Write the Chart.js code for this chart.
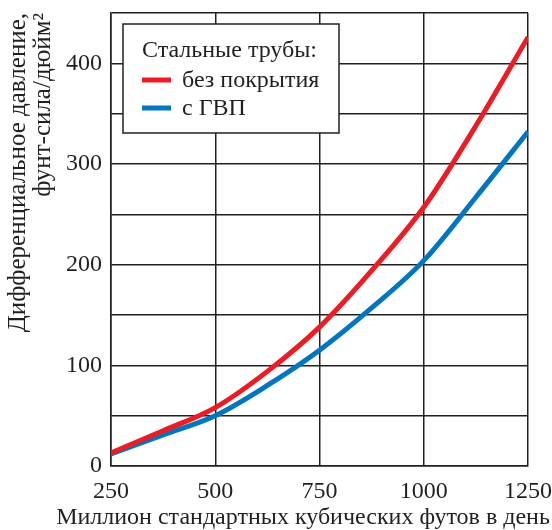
<!DOCTYPE html>
<html>
<head>
<meta charset="utf-8">
<script src="https://cdn.jsdelivr.net/npm/chart.js@4/dist/chart.umd.min.js"></script>
<style>
  html, body { margin: 0; padding: 0; background: #fff; }
  #wrap { width: 552px; height: 530px; }
</style>
</head>
<body>
<div id="wrap"><canvas id="chart" width="552" height="530"></canvas></div>
<script>
// flow rate, million standard cubic feet per day
const flowRates = [250, 375, 500, 625, 750, 875, 1000, 1125, 1250];
// differential pressure, psi
const bareSteel = [13, 35, 58, 94, 138, 194, 257, 338, 426];
const coatedSteel = [12, 31, 50, 80, 115, 157, 204, 267, 332];

const xTicks = [250, 500, 750, 1000, 1250];
const yLabelled = [0, 100, 200, 300, 400];

const xTitle = 'Миллион стандартных кубических футов в день';
const yTitle = ['Дифференциальное давление,', 'фунт-сила/дюйм²'];
const legendTitle = 'Стальные трубы:';
const seriesNames = ['без покрытия', 'с ГВП'];

const ink = '#231f20';
const serif = '"Liberation Serif", "Times New Roman", serif';

const toPoints = ys => ys.map((y, i) => ({ x: flowRates[i], y: y }));

// boxed legend drawn over the plot, top-left corner
const boxLegend = {
  id: 'boxLegend',
  afterDatasetsDraw(chart) {
    const ctx = chart.ctx;
    const area = chart.chartArea;
    const x0 = area.left + 12, y0 = area.top + 11, w = 216, h = 109;
    ctx.save();
    ctx.fillStyle = '#fff';
    ctx.fillRect(x0, y0, w, h);
    ctx.strokeStyle = ink;
    ctx.lineWidth = 1.5;
    ctx.strokeRect(x0, y0, w, h);
    ctx.fillStyle = ink;
    ctx.font = '24px ' + serif;
    ctx.textBaseline = 'middle';
    ctx.fillText(legendTitle, x0 + 19, y0 + 27);
    chart.data.datasets.forEach((ds, i) => {
      const yy = y0 + 56 + i * 28;
      ctx.strokeStyle = ds.borderColor;
      ctx.lineWidth = 5;
      ctx.beginPath();
      ctx.moveTo(x0 + 19, yy);
      ctx.lineTo(x0 + 48, yy);
      ctx.stroke();
      ctx.fillStyle = ink;
      ctx.fillText(ds.label, x0 + 59, yy + 1);
    });
    ctx.restore();
  }
};

// x title is wider than the plot, so it is drawn here instead of by the scale
const wideXTitle = {
  id: 'wideXTitle',
  afterDraw(chart) {
    const ctx = chart.ctx;
    ctx.save();
    ctx.fillStyle = ink;
    ctx.font = '24px ' + serif;
    ctx.textAlign = 'center';
    ctx.textBaseline = 'middle';
    ctx.fillText(xTitle, 303, chart.chartArea.bottom + 52);
    ctx.restore();
  }
};

new Chart(document.getElementById('chart'), {
  type: 'line',
  data: {
    datasets: [
      {
        label: seriesNames[0],
        data: toPoints(bareSteel),
        borderColor: '#ed1c24',
        borderWidth: 5,
        pointRadius: 0,
        cubicInterpolationMode: 'monotone'
      },
      {
        label: seriesNames[1],
        data: toPoints(coatedSteel),
        borderColor: '#0076c0',
        borderWidth: 5,
        pointRadius: 0,
        cubicInterpolationMode: 'monotone'
      }
    ]
  },
  options: {
    responsive: false,
    animation: false,
    layout: { padding: { top: 13, right: 24, left: 0, bottom: 0 } },
    plugins: {
      legend: { display: false },
      tooltip: { enabled: false }
    },
    scales: {
      x: {
        type: 'linear',
        min: 250,
        max: 1250,
        afterBuildTicks: axis => { axis.ticks = xTicks.map(v => ({ value: v })); },
        afterFit: axis => {
          axis.height = 64;
          axis.paddingLeft = 0;
          axis.paddingRight = 0;
        },
        grid: { color: ink, lineWidth: 1.5, drawTicks: false },
        border: { color: ink, width: 1.5 },
        ticks: {
          color: ink,
          font: { family: serif, size: 24 },
          padding: 11,
          maxRotation: 0,
          callback: v => String(v)
        }
      },
      y: {
        min: 0,
        max: 450,
        ticks: {
          stepSize: 50,
          color: ink,
          font: { family: serif, size: 24 },
          padding: 9,
          callback: v => yLabelled.includes(v) ? String(v) : ''
        },
        afterFit: axis => {
          axis.width = 111;
          axis.paddingTop = 0;
          axis.paddingBottom = 0;
        },
        grid: { color: ink, lineWidth: 1.5, drawTicks: false },
        border: { color: ink, width: 1.5 },
        title: {
          display: true,
          align: 'end',
          text: yTitle,
          color: ink,
          font: { family: serif, size: 25, lineHeight: 1.0 },
          padding: { top: 6, bottom: 0 }
        }
      }
    }
  },
  plugins: [boxLegend, wideXTitle]
});
</script>
</body>
</html>
